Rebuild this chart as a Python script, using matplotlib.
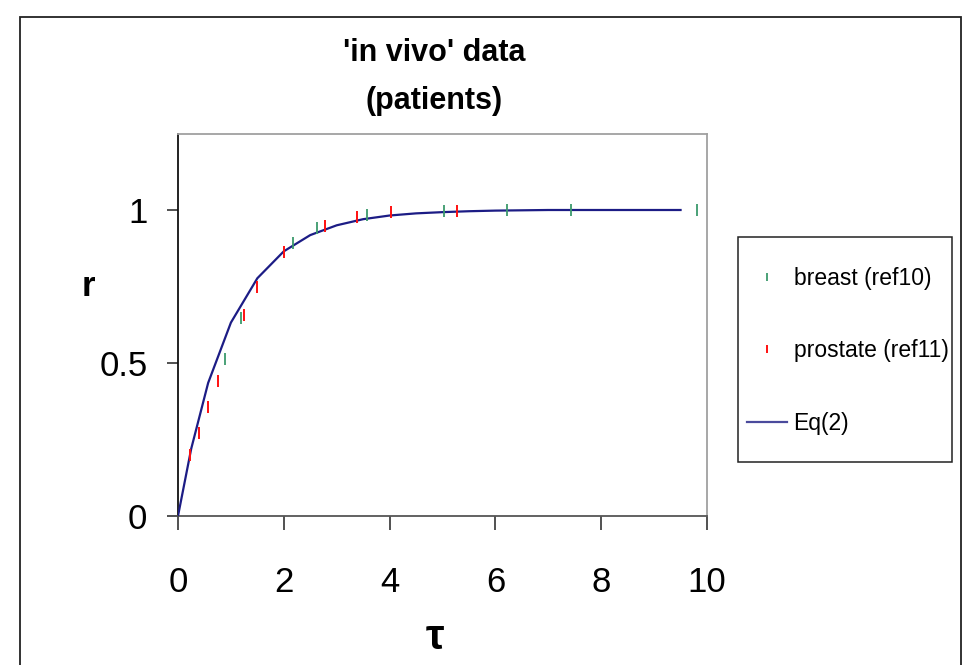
import matplotlib
matplotlib.use("Agg")
import matplotlib.pyplot as plt
from matplotlib.patches import Rectangle
from matplotlib.lines import Line2D

plt.rcParams['font.family'] = ['Liberation Sans', 'DejaVu Sans']

# breast cancer patients (ref10)
breast_tau = [0.89, 1.19, 2.17, 2.63, 3.58, 5.03, 6.22, 7.42, 9.82]
breast_r = [0.513, 0.646, 0.891, 0.940, 0.984, 0.998, 1.0, 1.0, 1.0]

# prostate cancer patients (ref11)
prostate_tau = [0.23, 0.40, 0.56, 0.75, 1.25, 1.49, 2.00, 2.77, 3.39, 4.02, 5.27]
prostate_r = [0.20, 0.27, 0.357, 0.44, 0.657, 0.747, 0.864, 0.948, 0.978, 0.994, 0.998]

# Eq(2) model curve
eq_tau = [0, 0.25, 0.57, 1.0, 1.5, 2.0, 2.5, 3.0, 3.5, 4.0, 4.5, 5.0, 5.5, 6.0, 7.0, 8.0, 9.0, 9.5]
eq_r = [0, 0.22, 0.435, 0.632, 0.777, 0.865, 0.918, 0.950, 0.970, 0.982, 0.989, 0.993, 0.996, 0.998, 1.0, 1.0, 1.0, 1.0]

x_ticks = [0, 2, 4, 6, 8, 10]
y_ticks = [0, 0.5, 1]
y_tick_labels = ['0', '0.5', '1']

W, H = 963, 665
fig = plt.figure(figsize=(W / 100, H / 100), dpi=100)
fig.patch.set_facecolor('white')

# outer frame around the whole figure
fig.patches.append(Rectangle((20 / W, -0.05), (961 - 20) / W, 1.05 - 17 / H,
                             transform=fig.transFigure, fill=False,
                             edgecolor='#222222', linewidth=1.3))

ax = fig.add_axes([178 / W, 1 - 516 / H, (707 - 178) / W, (516 - 133.5) / H])
ax.set_xlim(0, 10)
ax.set_ylim(0, 1.25)

ax.plot(eq_tau, eq_r, color='#1c1c85', linewidth=1.6, label='Eq(2)', zorder=3)
ax.plot(breast_tau, breast_r, linestyle='none', marker='|', markersize=8.5,
        markeredgewidth=1.3, color='#3c9a6c', label='breast (ref10)', zorder=4)
ax.plot(prostate_tau, prostate_r, linestyle='none', marker='|', markersize=8.5,
        markeredgewidth=1.4, color='#ff1010', label='prostate (ref11)', zorder=4)

for side in ('top', 'right'):
    ax.spines[side].set_color('#a0a0a0')
    ax.spines[side].set_linewidth(1.3)
ax.spines['left'].set_color('#111111')
ax.spines['left'].set_linewidth(1.3)
ax.spines['bottom'].set_color('#555555')
ax.spines['bottom'].set_linewidth(1.3)

ax.set_xticks(x_ticks)
ax.set_xticklabels([str(t) for t in x_ticks])
ax.set_yticks(y_ticks)
ax.set_yticklabels(y_tick_labels)
ax.tick_params(axis='both', direction='out', width=1.1, color='#222222',
               labelsize=25)
ax.tick_params(axis='x', length=10, pad=26)
ax.tick_params(axis='y', length=8, pad=14)

fig.text(434 / W, 1 - 53 / H, "'in vivo' data", ha='center', va='center',
         fontsize=22, fontweight='bold')
fig.text(434 / W, 1 - 101 / H, "(patients)", ha='center', va='center',
         fontsize=22, fontweight='bold')
fig.text(88 / W, 1 - 287 / H, "r", ha='center', va='center',
         fontsize=25, fontweight='bold')
fig.text(435 / W, 1 - 638 / H, "τ", ha='center', va='center',
         fontsize=30, fontweight='bold')

# legend box
fig.patches.append(Rectangle((738 / W, 1 - 462 / H), (952 - 738) / W, (462 - 237) / H,
                             transform=fig.transFigure, fill=False,
                             edgecolor='#222222', linewidth=1.1))

handles = [
    Line2D([], [], linestyle='none', marker='|', markersize=6, markeredgewidth=1.3,
           color='#3c9a6c'),
    Line2D([], [], linestyle='none', marker='|', markersize=6, markeredgewidth=1.4,
           color='#ff1010'),
    Line2D([], [], color='#4a4a9c', linewidth=1.6),
]
labels = ['breast (ref10)', 'prostate (ref11)', 'Eq(2)']
leg = fig.legend(handles, labels, loc='center left',
                 bbox_to_anchor=(747 / W, 1 - 351 / H), bbox_transform=fig.transFigure,
                 fontsize=16.5, frameon=False, labelspacing=2.15, handlelength=1.75,
                 handletextpad=0.28, borderpad=0, borderaxespad=0)

fig.savefig('out.png', dpi=100, facecolor='white')
